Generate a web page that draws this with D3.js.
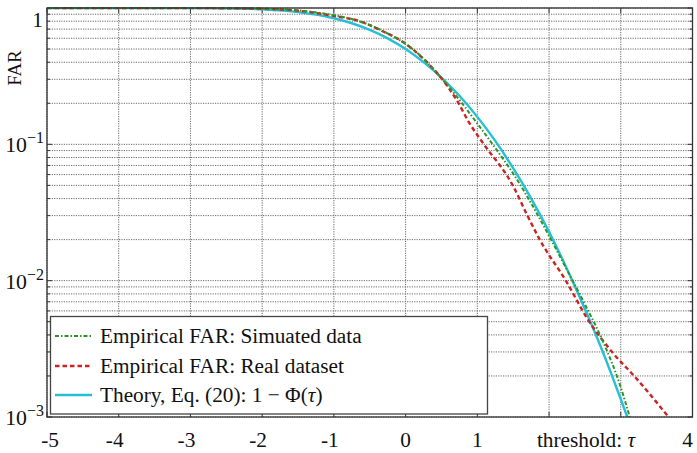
<!DOCTYPE html>
<html>
<head>
<meta charset="utf-8">
<script src="https://cdn.jsdelivr.net/npm/d3@7"></script>
<style>
  html, body { margin: 0; padding: 0; background: #fff; }
  svg { display: block; }
</style>
</head>
<body>
<svg id="chart" width="697" height="453"></svg>
<script>
// ---- data ----
const xTicks = [-5, -4, -3, -2, -1, 0, 1, 4];
const xTickLabels = ["-5", "-4", "-3", "-2", "-1", "0", "1", "4"];
const xGrid = [-5, -4, -3, -2, -1, 0, 1, 2, 3, 4];
const yMajor = [1e-3, 1e-2, 1e-1, 1];
const yMajorLabels = [["10", "\u22123"], ["10", "\u22122"], ["10", "\u22121"], ["1", ""]];

const theoryTau = [-5, -4, -3, -2.5, -2, -1.5, -1, -0.75, -0.5, -0.25, 0, 0.25, 0.5, 0.75, 1, 1.25, 1.5, 1.75, 2, 2.25, 2.5, 2.75, 3, 3.1];
const theoryFar = [1.0, 1.0, 0.9987, 0.9938, 0.977, 0.933, 0.841, 0.773, 0.691, 0.599, 0.5, 0.401, 0.309, 0.227, 0.159, 0.106, 0.0668, 0.0401, 0.0228, 0.0122, 0.0062, 0.0030, 0.00135, 0.00097];

const simTau = [-5, -4, -3, -2.5, -2, -1.5, -1, -0.75, -0.5, -0.25, 0, 0.25, 0.5, 0.75, 1, 1.25, 1.5, 1.75, 2, 2.25, 2.5, 2.75, 3, 3.13];
const simFar = [1.0, 1.0, 0.999, 0.997, 0.988, 0.96, 0.885, 0.83, 0.75, 0.65, 0.545, 0.425, 0.305, 0.212, 0.142, 0.094, 0.061, 0.037, 0.0213, 0.012, 0.0067, 0.0036, 0.00165, 0.00098];

const realTau = [-5, -4, -3, -2.5, -2, -1.5, -1, -0.64, -0.32, -0.04, 0.24, 0.5, 0.71, 0.89, 1.08, 1.49, 1.7, 1.87, 2.24, 2.54, 2.89, 3.19, 3.66];
const realFar = [1.0, 1.0, 0.999, 0.996, 0.986, 0.955, 0.875, 0.80, 0.675, 0.565, 0.428, 0.305, 0.212, 0.143, 0.102, 0.0505, 0.0299, 0.02, 0.00988, 0.0052, 0.00295, 0.00199, 0.00101];

const legendLabels = ["Empirical FAR: Simuated data", "Empirical FAR: Real dataset", "Theory, Eq. (20): "];

// ---- layout ----
const L = 47, R = 692.5, T = 8, B = 417;
const FS = 21.3;
const FONT = "'Liberation Serif'";
const svg = d3.select("#chart");
const x = d3.scaleLinear().domain([-5, 4]).range([L, R]);
const y = d3.scaleLog().domain([1e-3, 1]).range([B, T]);

const COL_GREEN = "#2a962a", COL_RED = "#cc2222", COL_CYAN = "#27bfd6";

function txt(sel) { return sel.append("text").style("font-family", FONT).attr("fill", "#111"); }

// minor y values
const yMinor = [];
[1e-3, 1e-2, 1e-1].forEach(d => { for (let k = 2; k <= 9; k++) yMinor.push(d * k); });

const grid = svg.append("g").attr("stroke", "#6a6a6a").attr("stroke-width", 1).attr("stroke-dasharray", "1.2,1.2");
yMinor.concat(yMajor).forEach(v => {
  grid.append("line").attr("x1", L).attr("x2", R).attr("y1", y(v)).attr("y2", y(v));
});
xGrid.forEach(v => {
  grid.append("line").attr("x1", x(v)).attr("x2", x(v)).attr("y1", T).attr("y2", B);
});

// ticks (inward)
const tk = svg.append("g").attr("stroke", "#333").attr("stroke-width", 1);
yMajor.forEach(v => {
  tk.append("line").attr("x1", L).attr("x2", L + 5).attr("y1", y(v)).attr("y2", y(v));
  tk.append("line").attr("x1", R).attr("x2", R - 5).attr("y1", y(v)).attr("y2", y(v));
});
yMinor.forEach(v => {
  tk.append("line").attr("x1", L).attr("x2", L + 3).attr("y1", y(v)).attr("y2", y(v));
  tk.append("line").attr("x1", R).attr("x2", R - 3).attr("y1", y(v)).attr("y2", y(v));
});
xGrid.forEach(v => {
  tk.append("line").attr("x1", x(v)).attr("x2", x(v)).attr("y1", B).attr("y2", B - 5);
  tk.append("line").attr("x1", x(v)).attr("x2", x(v)).attr("y1", T).attr("y2", T + 5);
});

// clip for data
svg.append("clipPath").attr("id", "clip").append("rect")
  .attr("x", L).attr("y", T - 1).attr("width", R - L).attr("height", B - T + 1);

const line = d3.line().x(d => x(d[0])).y(d => y(d[1])).curve(d3.curveMonotoneX);
const dataG = svg.append("g").attr("clip-path", "url(#clip)");

dataG.append("path").datum(d3.zip(theoryTau, theoryFar)).attr("d", line)
  .attr("fill", "none").attr("stroke", COL_CYAN).attr("stroke-width", 2.4);
dataG.append("path").datum(d3.zip(realTau, realFar)).attr("d", line)
  .attr("fill", "none").attr("stroke", COL_RED).attr("stroke-width", 2.4).attr("stroke-dasharray", "4.5,3");
dataG.append("path").datum(d3.zip(simTau, simFar)).attr("d", line)
  .attr("fill", "none").attr("stroke", COL_GREEN).attr("stroke-width", 2).attr("stroke-dasharray", "4,2,1.5,2");

// frame
svg.append("rect").attr("x", L).attr("y", T).attr("width", R - L).attr("height", B - T)
  .attr("fill", "none").attr("stroke", "#333").attr("stroke-width", 1.3);

// x tick labels
const xl = svg.append("g");
xTicks.forEach((v, i) => {
  let dx = v < 0 ? -4 : 0;
  if (v === -5) dx = 3;
  if (v === 4) dx = -5;
  txt(xl).attr("font-size", FS).attr("x", x(v) + dx).attr("y", 447).attr("text-anchor", "middle").text(xTickLabels[i]);
});
const xt = txt(xl).attr("font-size", FS).attr("x", 586).attr("y", 447).attr("text-anchor", "middle");
xt.append("tspan").text("threshold: ");
xt.append("tspan").attr("font-style", "italic").text("\u03c4");

// y tick labels
const ylab = svg.append("g");
yMajor.forEach((v, i) => {
  const [base, sup] = yMajorLabels[i];
  if (!sup) {
    txt(ylab).attr("font-size", FS).attr("x", 43).attr("y", y(v) + 19).attr("text-anchor", "end").text(base);
  } else {
    const t = txt(ylab).attr("font-size", FS + 0.5).attr("x", 44).attr("y", y(v) + 8).attr("text-anchor", "end");
    t.append("tspan").text(base);
    t.append("tspan").attr("font-size", 16).attr("dy", -9).text(sup);
  }
});

// y axis title
txt(svg).attr("font-size", 19).attr("text-anchor", "middle")
  .attr("transform", "translate(21,68) rotate(-90)").text("FAR");

// legend
const lg = svg.append("g");
lg.append("rect").attr("x", 50.5).attr("y", 316.5).attr("width", 437).attr("height", 97.5)
  .attr("fill", "#fff").attr("stroke", "#444").attr("stroke-width", 1.3);
const rows = [
  { c: COL_GREEN, dash: "4,2,1.5,2", w: 2 },
  { c: COL_RED, dash: "4.5,3", w: 2.4 },
  { c: COL_CYAN, dash: null, w: 2.4 }
];
const rowY = [336, 366, 395];
rows.forEach((r, i) => {
  const ln = lg.append("line").attr("x1", 55).attr("x2", 92).attr("y1", rowY[i]).attr("y2", rowY[i])
    .attr("stroke", r.c).attr("stroke-width", r.w);
  if (r.dash) ln.attr("stroke-dasharray", r.dash);
  const t = txt(lg).attr("x", 100).attr("y", rowY[i] + 7).attr("font-size", FS);
  t.append("tspan").text(legendLabels[i]);
  if (i === 2) {
    t.append("tspan").text("1 \u2212 \u03a6(");
    t.append("tspan").attr("font-style", "italic").text("\u03c4");
    t.append("tspan").text(")");
  }
});
</script>
</body>
</html>
